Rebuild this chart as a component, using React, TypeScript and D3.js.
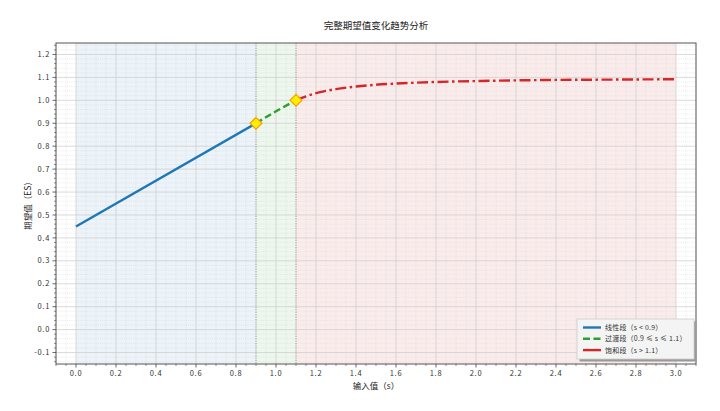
import React from "react";
import * as d3 from "d3";

const W = 720;
const H = 411;
const M = { top: 43, right: 24, bottom: 47, left: 56 };

// segment data
const linearS = [0, 0.9];
const linearES = [0.45, 0.9];
const transS = [0.9, 1.0, 1.1];
const transES = [0.9, 0.952, 1.0];
const satS = [1.1, 1.15, 1.2, 1.25, 1.3, 1.4, 1.5, 1.6, 1.7, 1.8, 2.0, 2.2, 2.4, 2.6, 2.8, 3.0];
const satES = [1.0, 1.017, 1.031, 1.041, 1.049, 1.06, 1.068, 1.073, 1.077, 1.08, 1.084, 1.087, 1.089, 1.09, 1.091, 1.092];
const markerS = [0.9, 1.1];
const markerES = [0.9, 1.0];
const regions = [
  { from: 0, to: 0.9, color: "#1f77b4" },
  { from: 0.9, to: 1.1, color: "#2ca02c" },
  { from: 1.1, to: 3.0, color: "#d62728" },
];
const boundaries = [0.9, 1.1];
const legendLabels = ["线性段（s < 0.9）", "过渡段（0.9 ≤ s ≤ 1.1）", "饱和段（s > 1.1）"];

const FONT = "'Noto Sans CJK SC', 'DejaVu Sans', sans-serif";

const zip = (xs: number[], ys: number[]) => xs.map((x, i) => [x, ys[i]] as [number, number]);

export default function App() {
  const iw = W - M.left - M.right;
  const ih = H - M.top - M.bottom;
  const x = d3.scaleLinear().domain([-0.1, 3.1]).range([0, iw]);
  const y = d3.scaleLinear().domain([-0.15, 1.25]).range([ih, 0]);

  const xMajor = d3.range(0, 3.0001, 0.2);
  const xMinor = d3.range(-0.1, 3.1001, 0.05).filter((v) => !xMajor.some((m) => Math.abs(m - v) < 1e-6));
  const yMajor = d3.range(-0.1, 1.2001, 0.1);
  const yMinor = d3.range(-0.14, 1.2401, 0.02).filter((v) => !yMajor.some((m) => Math.abs(m - v) < 1e-6));

  const line = d3
    .line<[number, number]>()
    .x((d) => x(d[0]))
    .y((d) => y(d[1]));
  const smooth = d3
    .line<[number, number]>()
    .x((d) => x(d[0]))
    .y((d) => y(d[1]))
    .curve(d3.curveMonotoneX);

  const series = [
    { pts: zip(linearS, linearES), color: "#1f77b4", dash: "none" },
    { pts: zip(transS, transES), color: "#2ca02c", dash: "7,3.5" },
    { pts: zip(satS, satES), color: "#d62728", dash: "11,3.5,2.5,3.5" },
  ];

  const diamond = d3.symbol(d3.symbolDiamond2, 90)();

  const lg = { x: iw - 119, y: ih - 45, w: 117, h: 40 };

  return (
    <svg width={W} height={H} style={{ position: "absolute", left: 0, top: 0, background: "#fff" }}>
      <text x={M.left + iw / 2} y={29} textAnchor="middle" fontFamily={FONT} fontSize={9.5} fill="#222">
        完整期望值变化趋势分析
      </text>
      <g transform={`translate(${M.left},${M.top})`}>
        {regions.map((r) => (
          <rect key={r.from} x={x(r.from)} y={0} width={x(r.to) - x(r.from)} height={ih} fill={r.color} fillOpacity={0.085} />
        ))}
        {/* minor grid */}
        {xMinor.map((v) => (
          <line key={"xm" + v} x1={x(v)} x2={x(v)} y1={0} y2={ih} stroke="#d6d6d6" strokeWidth={0.5} strokeDasharray="1,1.2" />
        ))}
        {yMinor.map((v) => (
          <line key={"ym" + v} x1={0} x2={iw} y1={y(v)} y2={y(v)} stroke="#d6d6d6" strokeWidth={0.5} strokeDasharray="1,1.2" />
        ))}
        {/* major grid */}
        {xMajor.map((v) => (
          <line key={"xg" + v} x1={x(v)} x2={x(v)} y1={0} y2={ih} stroke="#cbcbcb" strokeWidth={0.7} />
        ))}
        {yMajor.map((v) => (
          <line key={"yg" + v} x1={0} x2={iw} y1={y(v)} y2={y(v)} stroke="#cbcbcb" strokeWidth={0.7} />
        ))}
        {boundaries.map((b) => (
          <line key={"b" + b} x1={x(b)} x2={x(b)} y1={0} y2={ih} stroke="#888" strokeWidth={0.8} strokeDasharray="1.2,1.2" />
        ))}
        {series.map((s, i) => (
          <path
            key={i}
            d={(i === 0 ? line : smooth)(s.pts) || ""}
            fill="none"
            stroke={s.color}
            strokeWidth={2.4}
            strokeDasharray={s.dash}
          />
        ))}
        {markerS.map((s, i) => (
          <path
            key={"mk" + i}
            d={diamond || ""}
            transform={`translate(${x(s)},${y(markerES[i])})`}
            fill="#ffee00"
            stroke="#f5a000"
            strokeWidth={1.2}
          />
        ))}
        {/* frame */}
        <rect x={0} y={0} width={iw} height={ih} fill="none" stroke="#555" strokeWidth={1} />
        {/* x ticks */}
        {xMajor.map((v) => (
          <g key={"xt" + v} transform={`translate(${x(v)},${ih})`}>
            <line y1={0} y2={3.5} stroke="#444" strokeWidth={0.8} />
            <text y={12} textAnchor="middle" fontFamily={FONT} fontSize={7.5} fill="#333" letterSpacing={0.7}>
              {d3.format(".1f")(v)}
            </text>
          </g>
        ))}
        {xMinor.map((v) => (
          <line key={"xmt" + v} x1={x(v)} x2={x(v)} y1={ih} y2={ih + 2} stroke="#444" strokeWidth={0.6} />
        ))}
        {yMajor.map((v) => (
          <g key={"yt" + v} transform={`translate(0,${y(v)})`}>
            <line x1={0} x2={-3.5} stroke="#444" strokeWidth={0.8} />
            <text x={-6} dy="0.35em" textAnchor="end" fontFamily={FONT} fontSize={7.5} fill="#333" letterSpacing={0.7}>
              {Math.abs(v) < 1e-9 ? "0.0" : d3.format(".1f")(v).replace("−", "-")}
            </text>
          </g>
        ))}
        {yMinor.map((v) => (
          <line key={"ymt" + v} x1={0} x2={-2} y1={y(v)} y2={y(v)} stroke="#444" strokeWidth={0.6} />
        ))}
        {/* legend */}
        <rect x={lg.x + 2.5} y={lg.y + 2.5} width={lg.w} height={lg.h} fill="#999" />
        <rect x={lg.x} y={lg.y} width={lg.w} height={lg.h} fill="#f4f4f4" stroke="#ccc" strokeWidth={0.8} />
        {series.map((s, i) => (
          <g key={"lg" + i} transform={`translate(${lg.x + 6},${lg.y + 8.5 + i * 11.3})`}>
            <line x1={0} x2={18} stroke={s.color} strokeWidth={2.4} strokeDasharray={i === 2 ? "none" : s.dash} />
            <text x={22} dy="0.35em" fontFamily={FONT} fontSize={7} fill="#333" letterSpacing={0.2}>
              {legendLabels[i]}
            </text>
          </g>
        ))}
      </g>
      <text x={M.left + iw / 2} y={389} textAnchor="middle" fontFamily={FONT} fontSize={8.5} fill="#222">
        输入值（s）
      </text>
      <text
        transform={`translate(31,${M.top + ih / 2}) rotate(-90)`}
        textAnchor="middle"
        fontFamily={FONT}
        fontSize={8.5}
        fill="#222"
      >
        期望值（ES）
      </text>
    </svg>
  );
}
